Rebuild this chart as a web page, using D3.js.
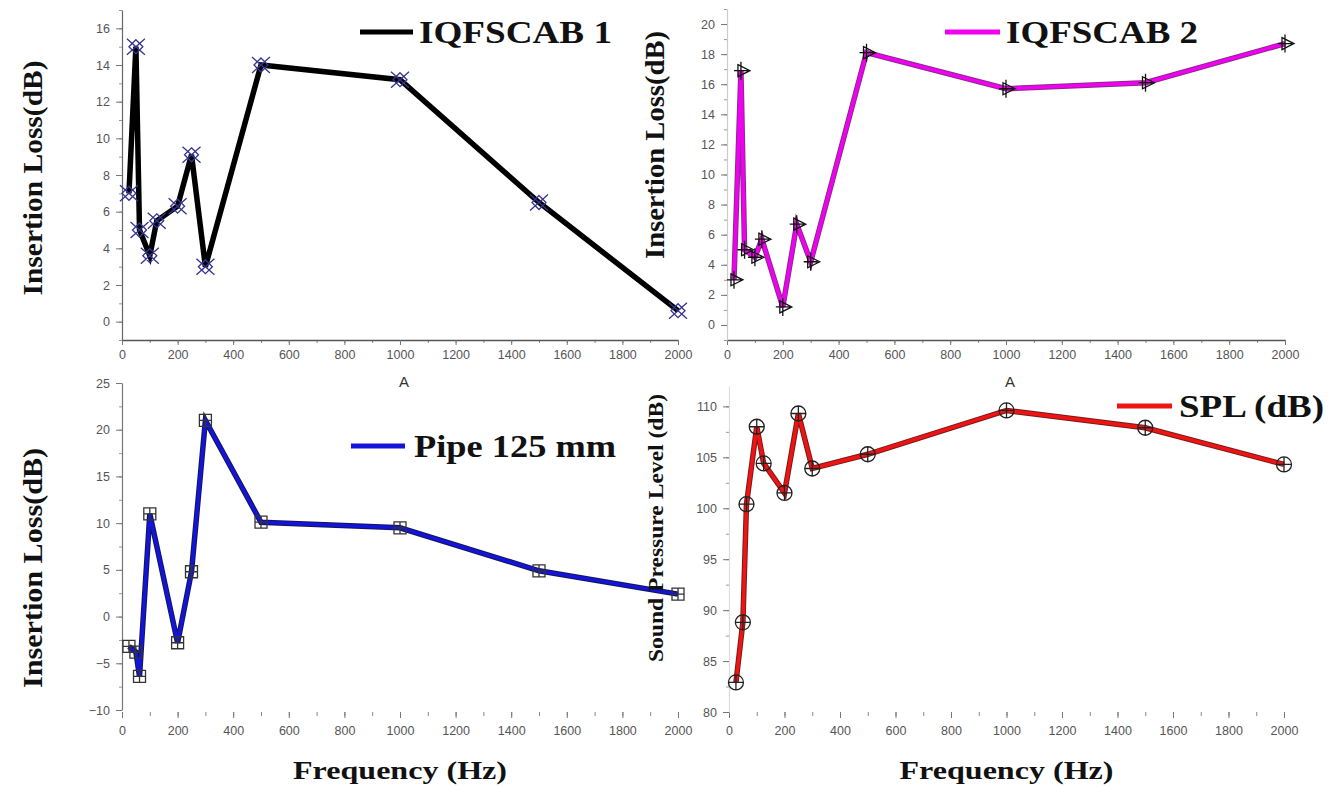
<!DOCTYPE html>
<html>
<head>
<meta charset="utf-8">
<script src="https://cdn.jsdelivr.net/npm/d3@7"></script>
<style>
  body { margin: 0; background: #fff; }
  .tick text { font-family: "Liberation Sans", Arial, sans-serif; fill: #555; }
</style>
</head>
<body>
<script>
var freqs = [25, 50, 63, 100, 125, 200, 250, 300, 500, 1000, 1500, 2000];
var iqf1 = [7.0, 15.0, 5.0, 3.6, 5.5, 6.3, 9.1, 3.0, 14.0, 13.2, 6.5, 0.6];
var iqf2 = [3.0, 16.9, 5.0, 4.5, 5.7, 1.2, 6.7, 4.2, 18.1, 15.7, 16.1, 18.7];
var pipeFreqs = [25, 50, 63, 100, 200, 250, 300, 500, 1000, 1500, 2000];
var pipe = [-3.2, -3.8, -6.4, 11.0, -2.8, 4.8, 21.0, 10.1, 9.5, 4.9, 2.4];
var spl = [82.9, 88.8, 100.4, 108.0, 104.4, 101.5, 109.3, 103.9, 105.3, 109.6, 107.9, 104.3];
var xTicks = [0, 200, 400, 600, 800, 1000, 1200, 1400, 1600, 1800, 2000];

var W = 1338, H = 787;
var svg = d3.select("body").append("svg").attr("width", W).attr("height", H);

var serif = "'Liberation Serif', 'Times New Roman', serif";
var fmt = d3.format("d");

// marker shapes, one per panel
var markers = {
  star: { d: "M-9,-8L9,8M-9,8L9,-8M0,-7L7,0L0,7L-7,0Z", stroke: "#34348e" },
  plusTri: { d: "M-7,0L7,0M0,-9L0,9M-3,-6L9,0L-3,6Z", stroke: "#111" },
  boxPlus: { d: "M-6,-6h12v12h-12ZM-6,0h12M0,-6v12", stroke: "#333" },
  circPlus: { d: "M-7.5,0a7.5,7.5 0 1,0 15,0a7.5,7.5 0 1,0 -15,0M-7.5,0h15M0,-7.5v15", stroke: "#222" }
};

var panels = [
  { xs: freqs, ys: iqf1, xr: [122, 678], yd: [-1, 17], yr: [340, 10], yTicks: d3.range(0, 17, 2), yMinor: d3.range(-1, 18, 1),
    xAxisY: 340, xLine: true, yAxisColor: "#666", core: "#000", edge: "#000", marker: "star",
    legend: "IQFSCAB 1", lx: [360, 413], ly: 32, tx: 419, tl: 193,
    ylabel: "Insertion Loss(dB)", ylx: 32, yly: 178, yll: 235, ylf: 28, A: true },
  { xs: freqs, ys: iqf2, xr: [727, 1285], yd: [-1, 21], yr: [340, 9], yTicks: d3.range(0, 21, 2), yMinor: d3.range(-1, 22, 1),
    xAxisY: 340, xLine: true, yAxisColor: "#ccc", core: "#f000f0", edge: "#8a2a8a", marker: "plusTri",
    legend: "IQFSCAB 2", lx: [945, 1000], ly: 32, tx: 1006, tl: 192,
    ylabel: "Insertion Loss(dB)", ylx: 655, yly: 145, yll: 228, ylf: 27, A: true },
  { xs: pipeFreqs, ys: pipe, xr: [122, 678], yd: [-10, 25], yr: [710, 383], yTicks: d3.range(-10, 26, 5), yMinor: d3.range(-10, 26, 2.5),
    xAxisY: 712, xLine: false, yAxisColor: "#777", core: "#1414d8", edge: "#14145a", marker: "boxPlus",
    legend: "Pipe 125 mm", lx: [351, 405], ly: 446, tx: 414, tl: 202,
    ylabel: "Insertion Loss(dB)", ylx: 32, yly: 568, yll: 240, ylf: 28, A: false },
  { xs: freqs, ys: spl, xr: [729, 1284], yd: [80, 112], yr: [712, 386], yTicks: d3.range(80, 111, 5), yMinor: d3.range(80, 112, 2.5),
    xAxisY: 712, xLine: false, yAxisColor: "#ddd", core: "#ee1414", edge: "#7a1a1a", marker: "circPlus",
    legend: "SPL (dB)", lx: [1117, 1172], ly: 406, tx: 1179, tl: 145,
    ylabel: "Sound Pressure Level (dB)", ylx: 656, yly: 528, yll: 268, ylf: 21, A: false }
];

panels.forEach(function(p) {
  var x = d3.scaleLinear().domain([0, 2000]).range(p.xr);
  var y = d3.scaleLinear().domain(p.yd).range(p.yr);
  var g = svg.append("g");

  // minor ticks on x axis
  g.append("g").attr("transform", "translate(0," + p.xAxisY + ")")
    .call(d3.axisBottom(x).tickValues(d3.range(0, 2001, 100)).tickSize(p.xLine ? 3 : 4).tickFormat(""))
    .call(function(a) { a.select(".domain").remove(); a.selectAll("line").attr("stroke", "#888"); });

  // x axis
  var xa = g.append("g").attr("transform", "translate(0," + p.xAxisY + ")")
    .call(d3.axisBottom(x).tickValues(xTicks).tickFormat(fmt).tickSize(p.xLine ? 5 : 6).tickPadding(p.xLine ? 5 : 8).tickSizeOuter(0));
  xa.selectAll("text").attr("font-size", 12.5);
  xa.selectAll("line").attr("stroke", "#777");
  xa.select(".domain").attr("stroke", p.xLine ? "#555" : "none").attr("stroke-width", 1.5);

  // y axis minor ticks
  g.append("g").attr("transform", "translate(" + p.xr[0] + ",0)")
    .call(d3.axisLeft(y).tickValues(p.yMinor).tickSize(3).tickFormat(""))
    .call(function(a) { a.select(".domain").remove(); a.selectAll("line").attr("stroke", "#999"); });

  // y axis
  var ya = g.append("g").attr("transform", "translate(" + p.xr[0] + ",0)")
    .call(d3.axisLeft(y).tickValues(p.yTicks).tickFormat(fmt).tickSize(6).tickPadding(6).tickSizeOuter(0));
  ya.selectAll("text").attr("font-size", 12.5);
  ya.selectAll("line").attr("stroke", "#777");
  ya.select(".domain").attr("stroke", p.yAxisColor).attr("stroke-width", 1.2);

  // the series line: dark edge under a coloured core
  var pts = p.xs.map(function(f, i) { return [f, p.ys[i]]; });
  var line = d3.line().x(function(d) { return x(d[0]); }).y(function(d) { return y(d[1]); });
  g.append("path").datum(pts).attr("d", line).attr("fill", "none")
    .attr("stroke", p.edge).attr("stroke-width", 5.5).attr("stroke-linejoin", "miter");
  g.append("path").datum(pts).attr("d", line).attr("fill", "none")
    .attr("stroke", p.core).attr("stroke-width", 3.5).attr("stroke-linejoin", "miter");

  var m = markers[p.marker];
  g.selectAll(".mk").data(pts).enter().append("path")
    .attr("transform", function(d) { return "translate(" + x(d[0]) + "," + y(d[1]) + ")"; })
    .attr("d", m.d).attr("fill", "none").attr("stroke", m.stroke).attr("stroke-width", 1.3);

  // legend
  g.append("line").attr("x1", p.lx[0]).attr("x2", p.lx[1]).attr("y1", p.ly).attr("y2", p.ly)
    .attr("stroke", p.core).attr("stroke-width", 5);
  g.append("text").attr("x", p.tx).attr("y", p.ly + 11).text(p.legend)
    .attr("font-family", serif).attr("font-weight", "bold").attr("font-size", 31).attr("fill", "#111")
    .attr("textLength", p.tl).attr("lengthAdjust", "spacingAndGlyphs");

  // y label
  g.append("text").attr("transform", "translate(" + p.ylx + "," + p.yly + ") rotate(-90)")
    .attr("text-anchor", "middle").attr("dy", "0.35em").text(p.ylabel)
    .attr("font-family", serif).attr("font-weight", "bold").attr("font-size", p.ylf).attr("fill", "#111")
    .attr("textLength", p.yll).attr("lengthAdjust", "spacingAndGlyphs");

  if (p.A) {
    g.append("text").attr("x", x(1000) + 4).attr("y", 387).attr("text-anchor", "middle").text("A")
      .attr("font-family", "'Liberation Sans', Arial, sans-serif").attr("font-size", 15).attr("fill", "#333");
  } else {
    g.append("text").attr("x", x(1000)).attr("y", 779).attr("text-anchor", "middle").text("Frequency (Hz)")
      .attr("font-family", serif).attr("font-weight", "bold").attr("font-size", 25).attr("fill", "#111")
      .attr("textLength", 214).attr("lengthAdjust", "spacingAndGlyphs");
  }
});
</script>
</body>
</html>
